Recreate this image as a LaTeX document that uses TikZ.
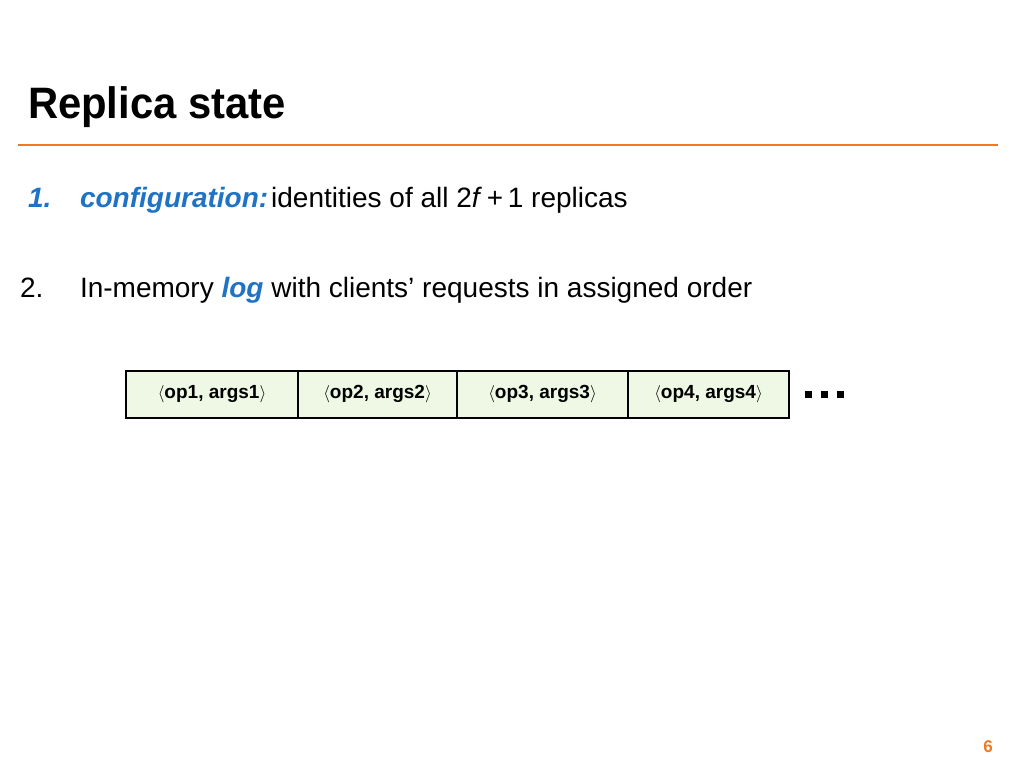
\documentclass[tikz,border=0pt]{standalone}
\usepackage{fontspec}
\setmainfont{Liberation Sans}
\usetikzlibrary{positioning}
\definecolor{slorange}{HTML}{EE7A22}
\definecolor{slblue}{HTML}{1F73C4}
\definecolor{slgreen}{HTML}{EEF8E4}

\begin{document}
\begin{tikzpicture}[x=1pt, y=-1pt,
  every node/.style={inner sep=0pt, outer sep=0pt},
  body/.style={anchor=base west, font=\fontsize{28}{32}\selectfont},
  cell/.style={draw, line width=2pt, fill=slgreen, minimum height=47pt, anchor=west, font=\bfseries\fontsize{19}{22}\selectfont},
  dot/.style={fill=black, minimum size=7pt},
]
\useasboundingbox (0,0) rectangle (1024,768);

% Title and rule
\node[anchor=base west, font=\bfseries\fontsize{44}{48}\selectfont, xscale=0.95] (title) at (28,118) {Replica state};
\draw[slorange, line width=2pt] (18,145) -- (998,145);

% Items
\node[body] (n1) at (28,207) {\textcolor{slblue}{\bfseries\itshape 1.}};
\node[body] (c1) at (80,207) {\textcolor{slblue}{\bfseries\itshape configuration:}\hspace{3pt}identities of all 2\textit{f}\,+\,1 replicas};
\node[body] (n2) at (20,297) {2.};
\node[body] (c2) at (80,297) {In-memory \textcolor{slblue}{\bfseries\itshape log} with clients’ requests in assigned order};

% Log entries
\node[cell, minimum width=172pt] (e1) at (126,394) {$\langle$op1, args1$\rangle$};
\node[cell, minimum width=159pt, right=0pt of e1] (e2) {$\langle$op2, args2$\rangle$};
\node[cell, minimum width=171pt, right=0pt of e2] (e3) {$\langle$op3, args3$\rangle$};
\node[cell, minimum width=161pt, right=0pt of e3] (e4) {$\langle$op4, args4$\rangle$};
\node[dot, right=16pt of e4] (d1) {};
\node[dot, right=9pt of d1] (d2) {};
\node[dot, right=9pt of d2] (d3) {};

% Page number
\node[anchor=base, font=\bfseries\fontsize{17}{20}\selectfont, text=slorange] (page) at (988,752) {6};
\end{tikzpicture}
\end{document}
